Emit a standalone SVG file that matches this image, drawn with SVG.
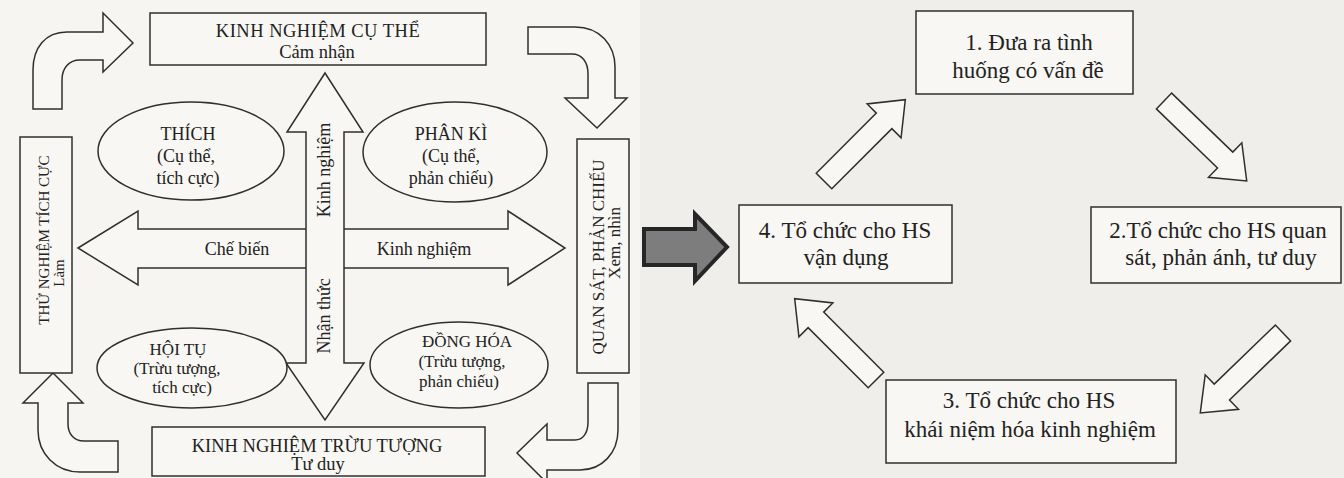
<svg xmlns="http://www.w3.org/2000/svg" width="1344" height="478" viewBox="0 0 1344 478">
<style>
.bg{fill:#f6f5f1}
.bgr{fill:#efeeea}
.box{fill:#f8f7f3;stroke:#2f2f2f;stroke-width:1.5}
.shape{fill:#f8f7f3;stroke:#2f2f2f;stroke-width:1.5;stroke-linejoin:miter}
.t{font-family:"Liberation Serif","Times New Roman",serif;fill:#222;text-anchor:middle}
.f18{font-size:18.5px}
.f18b{font-size:18px}
.f17{font-size:17px}
.f15{font-size:15px}
.f23{font-size:23px}
.gray{fill:#7d7d7d;stroke:#262626;stroke-width:4;stroke-linejoin:miter}
</style>
<defs>
<path id="sarrow" d="M0,-11 L85,-11 L85,-24 L115,0 L85,24 L85,11 L0,11 Z"/>
</defs>
<rect class="bg" x="0" y="0" width="1344" height="478"/>
<rect class="bgr" x="640" y="0" width="704" height="478"/>

<g id="connectors">
  <path class="shape" d="M33,109 L33,70 C33,48 45,32 67,32 L103,32 L103,13 L133,43 L103,72 L103,60 L80,60 C69,60 62,68 62,80 L62,109 Z"/>
  <path class="shape" d="M528,27 L575,27 C600,27 615,45 615,67 L615,98 L627,98 L597,128 L565,98 L588,98 L588,74 C588,62 582,54 572,54 L528,54 Z"/>
  <path class="shape" d="M588,383 L618,383 L618,430 C618,453 602,470 580,470 L547,470 L547,483 L517,453 L547,424 L547,440 L575,440 C583,440 588,433 588,422 Z"/>
  <path class="shape" d="M38,403 L23,403 L53,373 L83,403 L68,403 L68,424 C68,434 74,441 84,441 L118,441 L118,472 L80,472 C56,472 38,454 38,430 Z"/>
  <path class="shape" d="M78,248 L138,211 L138,229 L508,229 L508,211 L565,248 L508,285 L508,268 L138,268 L138,285 Z"/>
  <path class="shape" d="M325,73 L363,132 L344,132 L344,363 L364,363 L325,420 L286,363 L306,363 L306,132 L287,132 Z"/>
  <path class="gray" d="M644,229 L695,229 L695,214 L727,247 L695,281 L695,265 L644,265 Z"/>
  <use href="#sarrow" class="shape" transform="translate(824,181) rotate(-45)"/>
  <use href="#sarrow" class="shape" transform="translate(1164,101) rotate(44)"/>
  <use href="#sarrow" class="shape" transform="translate(1283,333) rotate(136)"/>
  <use href="#sarrow" class="shape" transform="translate(876,380) rotate(-135)"/>
</g>

<g id="axis-labels">
  <text class="t f18b" x="237" y="255">Chế biến</text>
  <text class="t f18b" x="424" y="255">Kinh nghiệm</text>
  <text class="t f18b" transform="translate(330,170) rotate(-90)">Kinh nghiệm</text>
  <text class="t f18b" transform="translate(330,316) rotate(-90)">Nhận thức</text>
</g>

<g id="kinh-nghiem-cu-the">
  <rect class="box" x="150" y="13" width="336" height="52"/>
  <text class="t f18" x="318" y="37" letter-spacing="0.5">KINH NGHIỆM CỤ THỂ</text>
  <text class="t f18" x="317" y="58">Cảm nhận</text>
</g>

<g id="kinh-nghiem-truu-tuong">
  <rect class="box" x="152" y="427" width="333" height="49"/>
  <text class="t f18" x="317" y="452">KINH NGHIỆM TRỪU TƯỢNG</text>
  <text class="t f18" x="318" y="470">Tư duy</text>
</g>

<g id="thu-nghiem">
  <rect class="box" x="20" y="137" width="52" height="236"/>
  <text class="t f15" transform="translate(49,240) rotate(-90)">THỬ NGHIỆM TÍCH CỰC</text>
  <text class="t f15" transform="translate(64,273) rotate(-90)">Làm</text>
</g>

<g id="quan-sat">
  <rect class="box" x="577" y="139" width="52" height="234"/>
  <text class="t f17" transform="translate(604,257) rotate(-90)">QUAN SÁT, PHẢN CHIẾU</text>
  <text class="t f17" transform="translate(620,243) rotate(-90)">Xem, nhìn</text>
</g>

<g id="thich">
  <ellipse class="shape" cx="191" cy="151" rx="93" ry="49"/>
  <text class="t f18b" x="188" y="140">THÍCH</text>
  <text class="t f18b" x="186" y="162">(Cụ thể,</text>
  <text class="t f18b" x="188" y="184">tích cực)</text>
</g>

<g id="phan-ki">
  <ellipse class="shape" cx="455" cy="152" rx="92" ry="50"/>
  <text class="t f18b" x="451" y="140">PHÂN KÌ</text>
  <text class="t f18b" x="451" y="162">(Cụ thể,</text>
  <text class="t f18b" x="451" y="184">phản chiếu)</text>
</g>

<g id="hoi-tu">
  <ellipse class="shape" cx="192" cy="368" rx="95" ry="40"/>
  <text class="t f17" x="178" y="355">HỘI TỤ</text>
  <text class="t f17" x="177" y="374">(Trừu tượng,</text>
  <text class="t f17" x="182" y="393">tích cực)</text>
</g>

<g id="dong-hoa">
  <ellipse class="shape" cx="459" cy="365" rx="89" ry="43"/>
  <text class="t f17" x="467" y="347">ĐỒNG HÓA</text>
  <text class="t f17" x="462" y="367">(Trừu tượng,</text>
  <text class="t f17" x="459" y="387">phản chiếu)</text>
</g>

<g id="step1">
  <rect class="box" x="916" y="11" width="217" height="83"/>
  <text class="t f23" x="1029" y="50">1. Đưa ra tình</text>
  <text class="t f23" x="1028" y="78">huống có vấn đề</text>
</g>

<g id="step2">
  <rect class="box" x="1091" y="207" width="250" height="76"/>
  <text class="t f23" x="1218" y="238">2.Tổ chức cho HS quan</text>
  <text class="t f23" x="1221" y="265">sát, phản ánh, tư duy</text>
</g>

<g id="step3">
  <rect class="box" x="886" y="380" width="290" height="83"/>
  <text class="t f23" x="1029" y="408">3. Tổ chức cho HS</text>
  <text class="t f23" x="1030" y="437">khái niệm hóa kinh nghiệm</text>
</g>

<g id="step4">
  <rect class="box" x="739" y="205" width="213" height="78"/>
  <text class="t f23" x="845" y="238">4. Tổ chức cho HS</text>
  <text class="t f23" x="846" y="265">vận dụng</text>
</g>
</svg>
